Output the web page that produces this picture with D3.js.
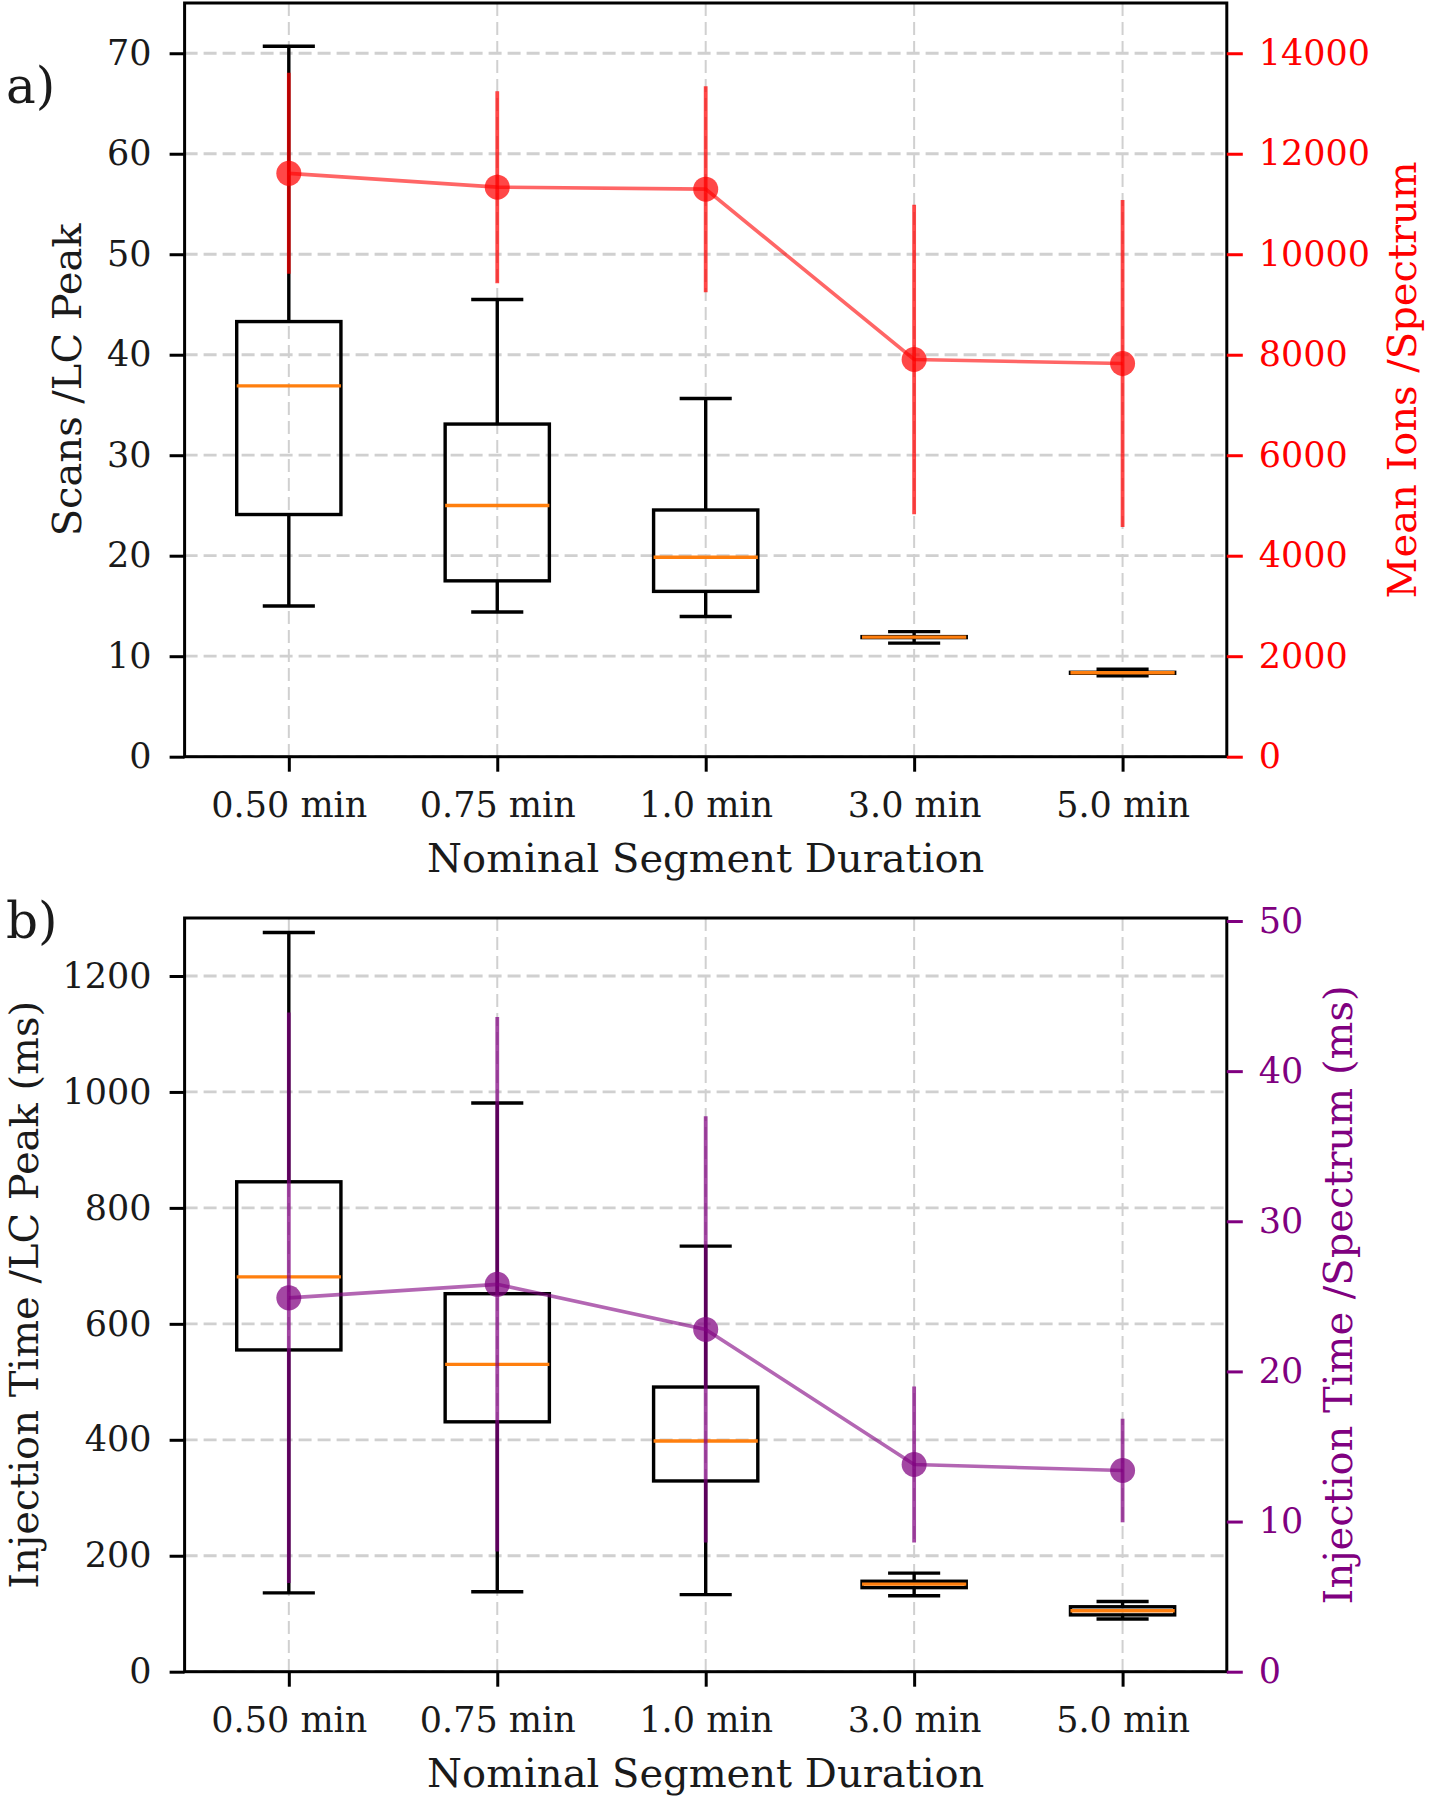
<!DOCTYPE html>
<html>
<head>
<meta charset="utf-8">
<script src="https://cdn.jsdelivr.net/npm/d3@7"></script>
<style>
  html, body { margin: 0; padding: 0; background: #fff; }
  svg { display: block; font-family: "DejaVu Serif", serif; }
</style>
</head>
<body>
<svg id="chart" width="1431" height="1800"></svg>
<script>
// ---------- DATA ----------
const categories = ["0.50 min", "0.75 min", "1.0 min", "3.0 min", "5.0 min"];

// Panel a) Scans / LC peak (box plot, left axis)
const scansWhiskerLow  = [15.0, 14.4, 13.95, 11.3, 8.05];
const scansQ1          = [24.1, 17.5, 16.45, 11.85, 8.3];
const scansMedian      = [36.9, 25.0, 19.85, 11.9, 8.35];
const scansQ3          = [43.3, 33.1, 24.55, 11.95, 8.4];
const scansWhiskerHigh = [70.7, 45.5, 35.65, 12.45, 8.7];

// Panel a) Mean ions / spectrum (right axis)
const ionsMean = [11610, 11335, 11295, 7905, 7825];
const ionsErr  = [2000, 1910, 2050, 3080, 3255];

// Panel b) Injection time / LC peak (box plot, left axis)
const injWhiskerLow  = [136, 138, 133, 131, 91];
const injQ1          = [555, 431, 329, 145, 98];
const injMedian      = [681, 530, 398, 151, 105];
const injQ3          = [845, 652, 491, 156, 112];
const injWhiskerHigh = [1275, 981, 734, 170, 121];

// Panel b) Injection time / spectrum (right axis)
const itMean = [24.9, 25.8, 22.8, 13.8, 13.4];
const itErr  = [19.0, 17.8, 14.2, 5.2, 3.45];

// tick values
const scansTicks = [0, 10, 20, 30, 40, 50, 60, 70];
const ionsTicks  = [0, 2000, 4000, 6000, 8000, 10000, 12000, 14000];
const injTicks   = [0, 200, 400, 600, 800, 1000, 1200];
const itTicks    = [0, 10, 20, 30, 40, 50];

// ---------- LAYOUT ----------
const svg = d3.select("#chart");
svg.append("rect").attr("width", 1431).attr("height", 1800).attr("fill", "#fff");

const X0 = 184.6, X1 = 1226.8;
const x = d3.scalePoint().domain(categories).range([X0, X1]).padding(0.5);
const step = x.step();
const LW = 3.4;

function panel(opts) {
  const { top, bottom, leftDomain, rightDomain, leftTicks, rightTicks,
          wl, q1, med, q3, wh, mean, err, color, leftLabel, rightLabel,
          rightLabelX, leftLabelX, panelLabel, panelLabelY } = opts;
  const g = svg.append("g");
  const yL = d3.scaleLinear().domain(leftDomain).range([bottom, top]);
  const yR = d3.scaleLinear().domain(rightDomain).range([bottom, top]);

  // grid
  const grid = g.append("g");
  grid.selectAll("line.h").data(leftTicks).join("line")
    .attr("x1", X0).attr("x2", X1)
    .attr("y1", d => yL(d)).attr("y2", d => yL(d))
    .attr("stroke", "#d0d0d0").attr("stroke-width", 2.8)
    .attr("stroke-dasharray", "13,6");
  grid.selectAll("line.v").data(categories).join("line")
    .attr("x1", d => x(d)).attr("x2", d => x(d))
    .attr("y1", top).attr("y2", bottom)
    .attr("stroke", "#d0d0d0").attr("stroke-width", 2)
    .attr("stroke-dasharray", "13,6");

  // boxes
  const bw = step * 0.5, cw = step * 0.25;
  const boxes = g.append("g").selectAll("g").data(categories).join("g");
  boxes.append("line").attr("x1", d => x(d)).attr("x2", d => x(d))
    .attr("y1", (d, i) => yL(q3[i])).attr("y2", (d, i) => yL(wh[i]))
    .attr("stroke", "#000").attr("stroke-width", LW);
  boxes.append("line").attr("x1", d => x(d)).attr("x2", d => x(d))
    .attr("y1", (d, i) => yL(q1[i])).attr("y2", (d, i) => yL(wl[i]))
    .attr("stroke", "#000").attr("stroke-width", LW);
  boxes.append("line").attr("x1", d => x(d) - cw / 2).attr("x2", d => x(d) + cw / 2)
    .attr("y1", (d, i) => yL(wh[i])).attr("y2", (d, i) => yL(wh[i]))
    .attr("stroke", "#000").attr("stroke-width", LW);
  boxes.append("line").attr("x1", d => x(d) - cw / 2).attr("x2", d => x(d) + cw / 2)
    .attr("y1", (d, i) => yL(wl[i])).attr("y2", (d, i) => yL(wl[i]))
    .attr("stroke", "#000").attr("stroke-width", LW);
  boxes.append("rect").attr("x", d => x(d) - bw / 2).attr("width", bw)
    .attr("y", (d, i) => yL(q3[i])).attr("height", (d, i) => Math.max(0.01, yL(q1[i]) - yL(q3[i])))
    .attr("fill", "none").attr("stroke", "#000").attr("stroke-width", LW);
  boxes.append("line").attr("x1", d => x(d) - bw / 2).attr("x2", d => x(d) + bw / 2)
    .attr("y1", (d, i) => yL(med[i])).attr("y2", (d, i) => yL(med[i]))
    .attr("stroke", "#ff7f0e").attr("stroke-width", LW);

  // error bars + line + markers (right axis)
  const eg = g.append("g");
  eg.selectAll("line.err").data(categories).join("line")
    .attr("x1", d => x(d)).attr("x2", d => x(d))
    .attr("y1", (d, i) => yR(mean[i] - err[i])).attr("y2", (d, i) => yR(mean[i] + err[i]))
    .attr("stroke", color).attr("stroke-width", 3.8).attr("stroke-opacity", 0.72);
  const line = d3.line().x((d, i) => x(categories[i])).y(d => yR(d));
  eg.append("path").attr("d", line(mean)).attr("fill", "none")
    .attr("stroke", color).attr("stroke-width", 3.6).attr("stroke-opacity", 0.6);
  eg.selectAll("circle").data(mean).join("circle")
    .attr("cx", (d, i) => x(categories[i])).attr("cy", d => yR(d)).attr("r", 12.5)
    .attr("fill", color).attr("fill-opacity", 0.72);

  // spines
  g.append("rect").attr("x", X0).attr("y", top).attr("width", X1 - X0).attr("height", bottom - top)
    .attr("fill", "none").attr("stroke", "#000").attr("stroke-width", 3);

  // axes
  const axL = g.append("g").attr("transform", `translate(${X0},0)`)
    .call(d3.axisLeft(yL).tickValues(leftTicks).tickSize(15).tickPadding(18).tickFormat(d3.format("d")));
  const axR = g.append("g").attr("transform", `translate(${X1},0)`)
    .call(d3.axisRight(yR).tickValues(rightTicks).tickSize(16).tickPadding(16).tickFormat(d3.format("d")));
  const axB = g.append("g").attr("transform", `translate(0,${bottom})`)
    .call(d3.axisBottom(x).tickSize(15).tickPadding(20));
  [axL, axR, axB].forEach(a => {
    a.select(".domain").remove();
    a.selectAll("text").attr("font-family", "DejaVu Serif, serif").attr("font-size", 35);
    a.selectAll("line").attr("stroke-width", 3);
  });
  axL.selectAll("text").attr("fill", "#1a1a1a");
  axB.selectAll("text").attr("fill", "#1a1a1a");
  axR.selectAll("line").attr("stroke", color);
  axR.selectAll("text").attr("fill", color);

  // labels
  const midY = (top + bottom) / 2;
  g.append("text").attr("transform", `translate(${leftLabelX},${midY}) rotate(-90)`)
    .attr("text-anchor", "middle").attr("font-size", 40).attr("fill", "#1a1a1a").text(leftLabel);
  g.append("text").attr("transform", `translate(${rightLabelX},${midY}) rotate(-90)`)
    .attr("text-anchor", "middle").attr("font-size", 40).attr("fill", color).text(rightLabel);
  g.append("text").attr("x", (X0 + X1) / 2).attr("y", bottom + 115)
    .attr("text-anchor", "middle").attr("font-size", 40).attr("fill", "#1a1a1a")
    .text("Nominal Segment Duration");
  g.append("text").attr("x", 6).attr("y", panelLabelY)
    .attr("font-size", 50).attr("fill", "#1a1a1a").text(panelLabel);
}

panel({
  top: 3, bottom: 756.7, leftDomain: [0, 75], rightDomain: [0, 15000],
  leftTicks: scansTicks, rightTicks: ionsTicks,
  wl: scansWhiskerLow, q1: scansQ1, med: scansMedian, q3: scansQ3, wh: scansWhiskerHigh,
  mean: ionsMean, err: ionsErr, color: "#ff0000",
  leftLabel: "Scans /LC Peak", rightLabel: "Mean Ions /Spectrum",
  leftLabelX: 81, rightLabelX: 1416, panelLabel: "a)", panelLabelY: 103
});

panel({
  top: 918, bottom: 1671.7, leftDomain: [0, 1300], rightDomain: [0, 50.2],
  leftTicks: injTicks, rightTicks: itTicks,
  wl: injWhiskerLow, q1: injQ1, med: injMedian, q3: injQ3, wh: injWhiskerHigh,
  mean: itMean, err: itErr, color: "#800080",
  leftLabel: "Injection Time /LC Peak (ms)", rightLabel: "Injection Time /Spectrum (ms)",
  leftLabelX: 38, rightLabelX: 1352, panelLabel: "b)", panelLabelY: 938
});
</script>
</body>
</html>
